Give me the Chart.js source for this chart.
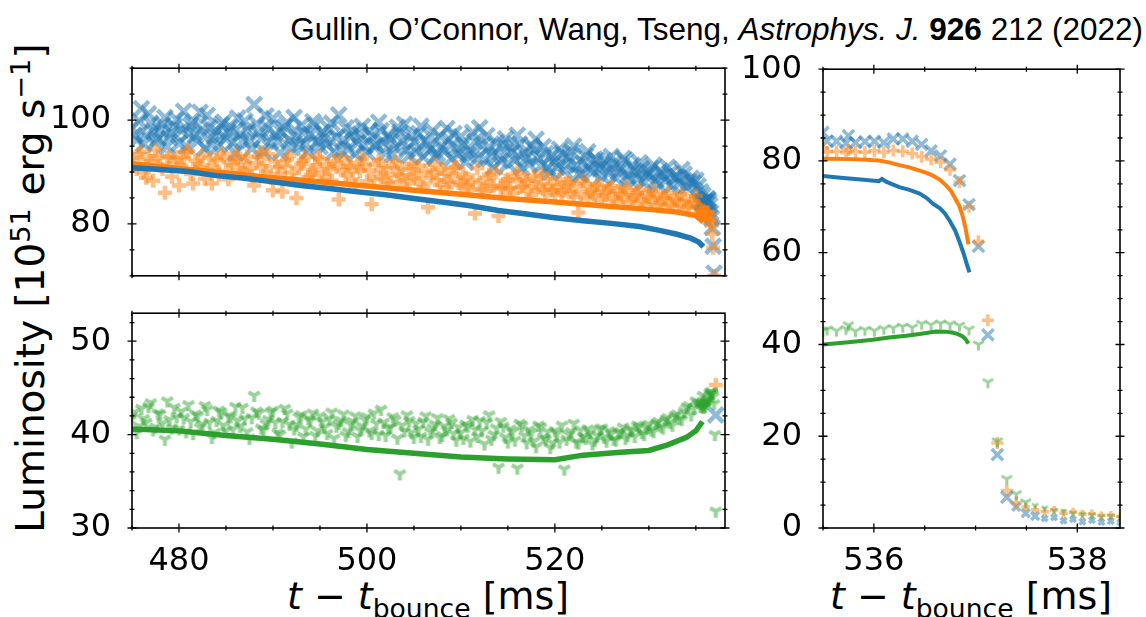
<!DOCTYPE html>
<html>
<head>
<meta charset="utf-8">
<script src="https://cdn.jsdelivr.net/npm/chart.js@4"></script>
<style>
  body { margin: 0; width: 1146px; height: 617px; position: relative; overflow: hidden; background: #fff; font-family: 'DejaVu Sans', sans-serif; color: #000; }
  .box { position: absolute; }
  #cite { position: absolute; right: 3px; top: 13px; font-family: 'Liberation Sans', Arial, sans-serif; font-size: 31.5px; line-height: 32px; white-space: nowrap; }
  #ylab { position: absolute; left: 31px; top: 288px; transform: translate(-50%, -50%) rotate(-90deg); font-size: 39px; line-height: 42px; white-space: nowrap; }
  .xlab { position: absolute; top: 596px; transform: translate(-50%, -50%); font-size: 38px; line-height: 42px; white-space: nowrap; }
  sup, sub { font-size: 70%; line-height: 0; }
</style>
</head>
<body>
<div id="cite">Gullin, O’Connor, Wang, Tseng, <i>Astrophys. J.</i> <b>926</b> 212 (2022)</div>
<div id="ylab">Luminosity [10<sup>51</sup> erg s<sup>−1</sup>]</div>
<div class="xlab" style="left:428px"><i>t</i> − <i>t</i><sub>bounce</sub> [ms]</div>
<div class="xlab" style="left:971px"><i>t</i> − <i>t</i><sub>bounce</sub> [ms]</div>
<div class="box" id="topBox"><canvas id="top"></canvas></div>
<div class="box" id="botBox"><canvas id="bot"></canvas></div>
<div class="box" id="rightBox"><canvas id="right"></canvas></div>
<script>
// scatter samples: two interleaved coarse grids (every 0.5 ms from 475 and from 475.25)
// plus a fine grid through the collapse
const tCoarseStart = 475, tMidStart = 475.25, tCoarseStep = 0.5;
const tFineStart = 535.54, tFineStep = 0.093;

const blueCoarse = [
  98.5, 96.2, 102.2, 97.0, 99.4, 95.8, 98.1, 100.5, 96.6, 98.9,
  95.5, 101.7, 97.4, 99.6, 96.0, 98.2, 100.9, 95.3, 97.8, 99.1,
  96.4, 98.6, 93.6, 97.3, 99.8, 96.1, 103.0, 97.5, 93.9, 98.4,
  100.3, 95.9, 97.6, 99.5, 94.7, 96.8, 98.9, 95.4, 97.2, 99.0,
  94.9, 96.5, 98.3, 93.9, 101.0, 96.2, 94.4, 97.9, 95.6, 98.8,
  93.8, 96.9, 95.1, 98.0, 93.6, 96.4, 94.7, 97.6, 99.2, 93.2,
  95.8, 97.4, 92.9, 95.2, 97.9, 93.5, 95.0, 98.4, 92.6, 94.6,
  96.8, 91.9, 94.1, 95.9, 98.5, 92.4, 94.8, 90.9, 93.3, 95.4,
  91.6, 93.9, 97.1, 90.8, 92.7, 95.1, 96.3, 91.2, 93.5, 89.9,
  92.1, 94.4, 90.3, 92.8, 95.0, 89.6, 91.7, 93.9, 90.1, 92.2,
  89.2, 91.4, 93.0, 88.8, 90.7, 92.3, 88.5, 90.2, 91.8, 88.0,
  89.8, 91.3, 87.6, 89.5, 90.9, 87.4, 89.1, 90.5, 87.2, 88.8,
  88.4, 86.2
];
const blueMid = [
  97.1, 99.8, 95.4, 101.2, 97.9, 96.4, 99.2, 94.9, 97.6, 100.1,
  98.0, 95.0, 99.0, 97.1, 101.5, 94.6, 98.5, 96.9, 95.2, 99.6,
  97.7, 95.7, 100.4, 96.0, 98.1, 94.5, 99.3, 96.5, 100.8, 95.9,
  97.3, 93.7, 98.7, 96.2, 100.5, 95.1, 97.5, 93.9, 99.7, 96.0,
  97.7, 95.3, 99.4, 96.6, 94.1, 98.5, 96.8, 93.5, 97.3, 95.0,
  97.9, 94.9, 99.6, 95.8, 97.1, 93.4, 98.6, 95.9, 94.2, 96.9,
  93.9, 98.8, 96.0, 94.3, 92.8, 96.9, 94.0, 96.2, 97.4, 93.4,
  95.3, 93.3, 97.6, 92.6, 95.1, 97.0, 93.1, 95.6, 92.1, 96.4,
  94.6, 92.3, 95.4, 93.6, 91.5, 94.4, 92.6, 94.9, 90.8, 93.3,
  90.9, 93.6, 91.4, 93.9, 91.2, 89.5, 93.1, 90.6, 92.5, 90.6,
  92.2, 89.7, 91.6, 89.9, 92.6, 89.3, 91.3, 88.7, 90.6, 89.2,
  90.6, 88.4, 90.2, 88.3, 89.8, 88.9, 87.8, 89.6, 88.1, 87.9,
  87.3, 85.5
];
const orangeCoarse = [
  92.8, 90.6, 93.9, 88.9, 92.1, 94.3, 91.2, 86.0, 93.0, 91.7,
  87.4, 92.6, 94.0, 87.8, 91.5, 93.2, 90.4, 87.8, 92.3, 93.6,
  90.1, 91.9, 93.5, 89.8, 92.0, 90.7, 87.4, 92.9, 91.1, 93.4,
  86.5, 90.9, 86.2, 92.4, 89.9, 85.0, 91.6, 93.0, 89.4, 91.2,
  92.5, 88.9, 90.6, 92.1, 84.7, 90.3, 91.8, 88.6, 90.9, 92.6,
  88.2, 83.8, 91.4, 89.0, 90.7, 87.9, 92.0, 89.3, 87.6, 90.5,
  88.8, 91.2, 87.1, 83.2, 89.9, 88.4, 90.6, 87.0, 89.2, 91.0,
  87.5, 88.9, 86.6, 82.0, 88.0, 86.3, 89.5, 87.4, 81.5, 86.8,
  88.6, 85.9, 89.8, 87.2, 88.3, 85.6, 87.9, 89.6, 86.1, 87.7,
  85.5, 88.6, 86.4, 87.9, 85.2, 82.2, 88.3, 84.9, 86.6, 87.6,
  84.6, 86.2, 87.3, 84.3, 85.8, 87.0, 84.1, 85.5, 86.6, 83.8,
  85.2, 86.3, 83.6, 84.9, 86.0, 83.4, 84.6, 85.7, 83.1, 84.4,
  85.4, 82.8
];
const orangeMid = [
  91.5, 93.4, 89.9, 92.5, 88.3, 93.1, 90.6, 92.7, 89.1, 92.9,
  91.3, 93.8, 89.6, 92.2, 90.8, 88.7, 92.7, 91.0, 89.5, 92.8,
  88.6, 91.3, 92.6, 90.4, 93.0, 89.2, 91.7, 93.9, 90.2, 88.9,
  92.0, 89.6, 91.1, 93.1, 88.4, 90.7, 92.2, 89.0, 90.4, 92.9,
  89.7, 91.5, 88.3, 90.9, 92.7, 89.4, 91.0, 87.4, 90.2, 91.6,
  90.3, 88.6, 92.2, 89.8, 88.1, 91.1, 89.5, 90.8, 88.4, 91.6,
  89.6, 87.8, 90.3, 88.9, 91.4, 87.5, 89.7, 88.1, 90.8, 87.9,
  89.6, 87.1, 88.4, 90.7, 86.7, 88.9, 87.3, 89.9, 86.9, 88.3,
  86.8, 89.1, 87.0, 88.6, 86.4, 89.2, 87.1, 86.6, 88.8, 86.5,
  87.1, 85.9, 88.0, 86.2, 87.4, 85.7, 87.7, 86.1, 85.4, 87.2,
  85.5, 86.8, 84.9, 86.3, 85.1, 86.6, 84.7, 86.0, 84.5, 85.9,
  84.3, 85.6, 84.0, 85.3, 83.8, 85.0, 83.6, 84.8, 83.3, 84.1,
  83.5, 82.4
];
const greenCoarse = [
  41.9, 40.2, 42.8, 41.3, 43.4, 40.8, 42.2, 39.5, 41.6, 42.9,
  40.6, 41.8, 43.2, 40.1, 42.0, 41.1, 42.7, 39.7, 41.5, 42.4,
  40.4, 41.9, 43.0, 40.9, 41.7, 39.6, 44.2, 42.3, 40.5, 41.6,
  42.6, 40.2, 41.4, 42.3, 39.2, 41.0, 42.1, 40.6, 41.5, 39.9,
  42.0, 40.8, 41.7, 39.6, 41.2, 42.2, 40.3, 41.4, 39.8, 40.9,
  41.9, 40.1, 41.2, 42.7, 39.9, 40.8, 41.6, 35.8, 40.4, 41.5,
  39.7, 40.6, 41.4, 39.5, 40.7, 41.8, 39.9, 40.5, 41.3, 39.4,
  40.2, 41.1, 39.3, 40.6, 41.5, 39.0, 42.1, 40.0, 36.5, 40.9,
  39.2, 40.3, 36.4, 41.0, 39.1, 40.2, 38.7, 40.8, 39.5, 38.6,
  40.4, 39.2, 36.3, 40.0, 41.2, 39.1, 39.8, 40.6, 39.0, 39.9,
  40.7, 39.3, 40.1, 39.4, 40.3, 39.6, 40.6, 39.8, 40.9, 40.0,
  41.1, 40.3, 41.4, 40.7, 41.8, 41.0, 42.2, 41.6, 42.9, 42.1,
  43.6, 43.0
];
const greenMid = [
  42.4, 40.9, 41.7, 43.0, 40.5, 42.3, 41.2, 43.6, 40.7, 41.9,
  42.5, 40.3, 41.4, 42.2, 40.8, 43.1, 41.3, 40.2, 42.6, 41.0,
  42.0, 40.6, 41.5, 42.9, 40.3, 41.8, 42.5, 40.7, 41.2, 42.4,
  41.3, 40.0, 42.8, 41.1, 40.6, 41.9, 39.8, 41.7, 42.3, 40.4,
  41.4, 40.1, 42.4, 40.9, 41.5, 39.9, 41.1, 42.0, 40.5, 41.6,
  40.4, 42.3, 40.0, 41.3, 40.7, 41.9, 39.6, 41.0, 42.1, 40.2,
  41.2, 39.8, 42.0, 40.3, 41.1, 39.7, 40.9, 41.7, 40.1, 40.8,
  39.6, 40.9, 41.6, 39.8, 40.4, 41.3, 39.5, 40.7, 41.4, 39.7,
  40.6, 39.4, 41.2, 39.9, 40.5, 39.3, 41.0, 39.7, 40.3, 39.1,
  40.1, 41.0, 39.5, 40.3, 39.2, 40.5, 39.6, 40.2, 39.4, 40.6,
  39.7, 40.4, 39.5, 40.2, 40.8, 39.9, 40.4, 41.0, 40.2, 40.7,
  40.5, 41.2, 40.9, 41.6, 41.3, 42.0, 41.7, 42.5, 43.1, 42.8,
  43.4, 44.2
];
const blueFine = [
  84.3, 84.3, 83.9, 84.0, 84.2, 84.3, 84.0, 84.8, 84.8, 84.3,
  83.6, 82.2, 81.1, 79.3, 75.7, 70.5, 61.4, 42.1, 16.0, 6.7,
  4.6, 3.2, 2.6, 2.1, 2.3, 1.6, 1.9, 1.4, 1.7, 1.3,
  1.5, 1.2
];
const orangeFine = [
  82.0, 82.1, 81.8, 82.0, 81.9, 82.2, 81.9, 82.3, 82.1, 81.6,
  80.9, 80.4, 79.7, 78.1, 75.4, 70.0, 62.5, 45.3, 18.5, 8.2,
  5.5, 4.6, 4.0, 3.6, 3.9, 3.2, 3.5, 3.0, 3.1, 2.7,
  2.8, 2.5
];
const greenFine = [
  43.3, 43.0, 43.4, 42.9, 43.2, 43.0, 43.4, 43.6, 43.9, 43.7,
  44.5, 44.3, 44.6, 44.4, 44.1, 43.3, 40.0, 31.8, 18.9, 10.7,
  7.4, 5.6, 4.9, 4.3, 3.8, 3.6, 3.2, 3.0, 2.8, 2.5,
  2.6, 2.2
];

// solid curves, long-time panels
const tBlueLineL = [475, 478, 481, 484, 487, 490, 493, 496, 499, 502, 505, 508, 511, 514, 517, 520, 523, 526, 529, 531, 533, 534.5, 535.3, 535.8];
const blueLineL = [90.8, 90.5, 90.1, 89.3, 88.8, 88.1, 87.4, 86.8, 86.2, 85.6, 84.9, 84.2, 83.5, 82.6, 81.9, 81.2, 80.6, 80.1, 79.5, 78.8, 78.0, 77.2, 76.5, 75.6];
const tOrangeLineL = [475, 480, 485, 490, 495, 500, 505, 510, 515, 520, 525, 530, 533, 535, 535.8];
const orangeLineL = [91.6, 90.7, 89.8, 88.9, 88.1, 87.3, 86.5, 85.7, 84.9, 84.2, 83.5, 82.8, 82.3, 81.6, 80.4];
const tGreenLineL = [475, 480, 485, 490, 495, 500, 505, 510, 515, 520, 523, 527, 530, 532, 534, 535, 535.7];
const greenLineL = [40.6, 40.4, 39.9, 39.5, 39.0, 38.4, 38.0, 37.6, 37.4, 37.3, 37.8, 38.1, 38.3, 38.9, 39.7, 40.4, 41.4];

// solid curves, collapse panel
const tBlueLineR = [535.5, 535.7, 535.9, 536.05, 536.08, 536.12, 536.25, 536.35, 536.45, 536.52, 536.58, 536.65, 536.7, 536.75, 536.8, 536.84, 536.88, 536.91, 536.94];
const blueLineR = [76.7, 76.3, 75.9, 75.6, 76.1, 75.5, 74.3, 73.7, 72.9, 71.9, 70.7, 69.7, 68.5, 66.8, 64.8, 62.5, 60.0, 57.8, 55.7];
const tOrangeLineR = [535.5, 535.8, 536.05, 536.15, 536.25, 536.35, 536.45, 536.52, 536.58, 536.65, 536.71, 536.76, 536.8, 536.84, 536.87, 536.9, 536.93];
const orangeLineR = [80.5, 80.4, 80.1, 79.7, 79.1, 78.6, 77.9, 77.4, 76.8, 75.9, 74.7, 73.4, 71.8, 70.2, 68.2, 65.5, 61.8];
const tGreenLineR = [535.5, 535.75, 535.99, 536.15, 536.32, 536.45, 536.61, 536.7, 536.77, 536.82, 536.87, 536.9, 536.93];
const greenLineR = [40.0, 40.5, 41.05, 41.5, 41.9, 42.3, 42.85, 42.8, 42.6, 42.3, 41.8, 41.2, 40.2];

// tick labels
const xTicksLeft = [480, 500, 520];
const yTicksTop = [80, 100];
const yTicksBottom = [30, 40, 50];
const xTicksRight = [536, 538];
const yTicksRight = [0, 20, 40, 60, 80, 100];

const BLUE = '#1f77b4', ORANGE = '#ff7f0e', GREEN = '#2ca02c';
const BLUE_A = 'rgba(31,119,180,0.5)', ORANGE_A = 'rgba(255,127,14,0.5)', GREEN_A = 'rgba(44,160,44,0.48)';

const grid = (start, step, n) => Array.from({length: n}, (_, i) => +(start + step * i).toFixed(3));
const pts = (ts, vs) => vs.map((v, i) => ({x: ts[i], y: v}));
const tAll = grid(tCoarseStart, tCoarseStep, blueCoarse.length)
  .concat(grid(tMidStart, tCoarseStep, blueMid.length))
  .concat(grid(tFineStart, tFineStep, blueFine.length));
const blueScatter = pts(tAll, blueCoarse.concat(blueMid, blueFine));
const orangeScatter = pts(tAll, orangeCoarse.concat(orangeMid, orangeFine));
const greenScatter = pts(tAll, greenCoarse.concat(greenMid, greenFine));

// matplotlib-like tri_down marker
function triDown(r, lw) {
  const c = document.createElement('canvas');
  c.width = c.height = Math.ceil(2 * r + lw + 2);
  const g = c.getContext('2d'), m = c.width / 2;
  g.strokeStyle = GREEN_A;
  g.lineWidth = lw;
  g.beginPath();
  g.moveTo(m, m + r); g.lineTo(m, m);
  g.lineTo(m - 0.866 * r, m - 0.5 * r);
  g.moveTo(m, m); g.lineTo(m + 0.866 * r, m - 0.5 * r);
  g.stroke();
  return c;
}

// box frame + in/out ticks on all four sides
const frameTicks = {
  id: 'frameTicks',
  afterDatasetsDraw(chart, args, o) {
    const {ctx, chartArea: a, scales: {x, y}} = chart;
    const each = (s, minor, major, f) => {
      const k0 = Math.ceil(s.min / minor - 1e-6), k1 = Math.floor(s.max / minor + 1e-6);
      for (let k = k0; k <= k1; k++) {
        const v = k * minor;
        const isMajor = Math.abs(v / major - Math.round(v / major)) < 1e-6;
        f(s.getPixelForValue(v), isMajor ? 4.5 : 2.5);
      }
    };
    ctx.save();
    ctx.strokeStyle = '#000';
    ctx.lineWidth = 1.6;
    ctx.strokeRect(a.left, a.top, a.right - a.left, a.bottom - a.top);
    ctx.lineWidth = 1.3;
    ctx.beginPath();
    each(x, o.xMinor, o.xMajor, (p, h) => {
      ctx.moveTo(p, a.top - h); ctx.lineTo(p, a.top + h);
      ctx.moveTo(p, a.bottom - h); ctx.lineTo(p, a.bottom + h);
    });
    each(y, o.yMinor, o.yMajor, (p, h) => {
      ctx.moveTo(a.left - h, p); ctx.lineTo(a.left + h, p);
      ctx.moveTo(a.right - h, p); ctx.lineTo(a.right + h, p);
    });
    ctx.stroke();
    ctx.restore();
  }
};

const tickFont = {family: 'DejaVu Sans', size: 32};

function panel(id, area, o) {
  const pad = 25, yW = 90, xH = o.xTicks ? 50 : 0;
  const box = document.getElementById(id + 'Box');
  const w = area.r - area.l + yW + 2 * pad, h = area.b - area.t + xH + 2 * pad;
  box.style.left = (area.l - yW - pad) + 'px';
  box.style.top = (area.t - pad) + 'px';
  const cv = document.getElementById(id);
  cv.width = w; cv.height = h;
  cv.style.width = w + 'px'; cv.style.height = h + 'px';

  const line = (ts, vs, color) => ({
    type: 'line', data: pts(ts, vs), borderColor: color, borderWidth: o.lw,
    pointRadius: 0, tension: 0, fill: false, clip: 0
  });
  const dots = (data, style, color, r, bw) => ({
    type: 'scatter', data, pointStyle: style, borderColor: color, backgroundColor: color,
    borderWidth: bw, radius: r, pointRadius: r, clip: 0
  });
  const shrink = (r) => (c) => {
    const v = c.raw ? c.raw.y : 10;
    return o.shrinkTail ? (v < 2.5 ? r * 0.5 : v < 5 ? r * 0.7 : r) : r;
  };
  const triBig = triDown(o.triR, o.bw - 0.5), triSmall = triDown(o.triR * 0.6, o.bw - 1);

  new Chart(cv, {
    data: {
      datasets: [
        line(o.lines[0][0], o.lines[0][1], BLUE),
        line(o.lines[1][0], o.lines[1][1], ORANGE),
        line(o.lines[2][0], o.lines[2][1], GREEN),
        dots(greenScatter, (c) => (o.shrinkTail && c.raw && c.raw.y < 5) ? triSmall : triBig, GREEN_A, o.triR, 0),
        dots(orangeScatter, 'cross', ORANGE_A, shrink(o.plusR), o.bw),
        dots(blueScatter, 'crossRot', BLUE_A, shrink(o.xR), o.bw)
      ]
    },
    options: {
      responsive: false,
      animation: false,
      events: [],
      layout: {padding: pad},
      plugins: {legend: {display: false}, tooltip: {enabled: false}, frameTicks: o.minor},
      scales: {
        x: {
          type: 'linear', min: o.xMin, max: o.xMax,
          afterBuildTicks: (s) => { s.ticks = (o.xTicks || []).map(v => ({value: v})); },
          afterFit: (s) => { s.height = xH; },
          grid: {display: false}, border: {display: false},
          ticks: {display: !!o.xTicks, padding: 6, color: '#000', font: tickFont, maxRotation: 0, autoSkip: false}
        },
        y: {
          type: 'linear', min: o.yMin, max: o.yMax,
          afterBuildTicks: (s) => { s.ticks = o.yTicks.map(v => ({value: v})); },
          afterFit: (s) => { s.width = yW; },
          grid: {display: false}, border: {display: false},
          ticks: {padding: 13, color: '#000', font: tickFont, autoSkip: false}
        }
      }
    },
    plugins: [frameTicks]
  });
}

const leftLines = [[tBlueLineL, blueLineL], [tOrangeLineL, orangeLineL], [tGreenLineL, greenLineL]];
const rightLines = [[tBlueLineR, blueLineR], [tOrangeLineR, orangeLineR], [tGreenLineR, greenLineR]];

panel('top', {l: 132, t: 61, r: 725, b: 283}, {
  xMin: 475, xMax: 538.1, yMin: 70, yMax: 110, xTicks: null, yTicks: yTicksTop,
  minor: {xMinor: 5, xMajor: 20, yMinor: 5, yMajor: 20},
  lines: leftLines, lw: 5.5, xR: 10.5, plusR: 7, triR: 6.5, bw: 4.5
});
panel('bot', {l: 132, t: 306, r: 725, b: 528}, {
  xMin: 475, xMax: 538.1, yMin: 30, yMax: 53, xTicks: xTicksLeft, yTicks: yTicksBottom,
  minor: {xMinor: 5, xMajor: 20, yMinor: 2, yMajor: 10},
  lines: leftLines, lw: 5.5, xR: 10.5, plusR: 7, triR: 6.5, bw: 4.5
});
panel('right', {l: 823, t: 62, r: 1120, b: 528}, {
  xMin: 535.5, xMax: 538.42, yMin: 0, yMax: 100, xTicks: xTicksRight, yTicks: yTicksRight,
  minor: {xMinor: 0.5, xMajor: 2, yMinor: 5, yMajor: 20},
  lines: rightLines, lw: 4, xR: 8, plusR: 6, triR: 6, bw: 3.5, shrinkTail: true
});
</script>
</body>
</html>
